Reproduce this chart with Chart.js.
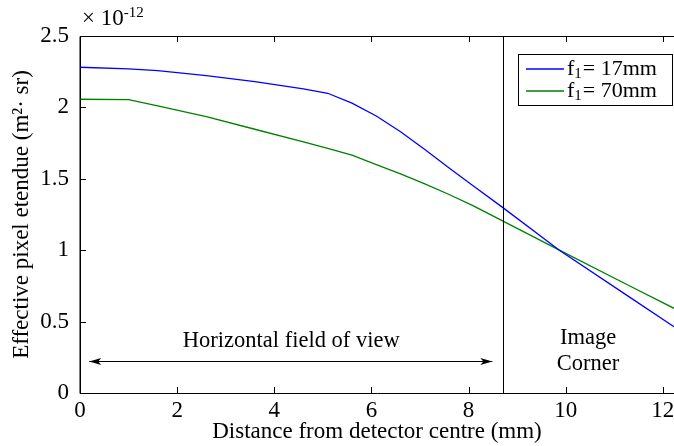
<!DOCTYPE html>
<html>
<head>
<meta charset="utf-8">
<script src="https://cdn.jsdelivr.net/npm/chart.js@4.4.1/dist/chart.umd.min.js"></script>
<style>
  html, body { margin: 0; padding: 0; background: #fff; }
  #wrap { width: 674px; height: 446px; }
</style>
</head>
<body>
<div id="wrap"><canvas id="etendue"></canvas></div>
<script>
// Distances from detector centre (mm)
const distance = [0, 1.0, 1.6, 2.6, 3.6, 4.6, 5.1, 5.6, 6.1, 6.6, 7.1, 7.6, 8.1, 8.7, 9.87, 11.3, 12.23];
// Effective pixel etendue (x 1e-12 m^2 sr)
const etendueF17 = [2.281, 2.27, 2.257, 2.222, 2.18, 2.13, 2.099, 2.03, 1.94, 1.83, 1.705, 1.575, 1.45, 1.30, 1.00, 0.675, 0.464];
const etendueF70 = [2.057, 2.054, 2.01, 1.935, 1.847, 1.758, 1.713, 1.665, 1.60, 1.535, 1.465, 1.39, 1.31, 1.205, 1.00, 0.753, 0.593];
const seriesLabels = ["17mm", "70mm"];
const xTicks = [0, 2, 4, 6, 8, 10, 12];
const yTicks = [0, 0.5, 1, 1.5, 2, 2.5];
const fovEdge = 8.7;     // edge of horizontal field of view
const arrowSpan = [0.19, 8.49];
const arrowLevel = 0.224;

const FONT = "'Liberation Serif', 'DejaVu Serif', serif";

const toPts = ys => distance.map((x, i) => ({ x, y: ys[i] }));

// axes box, inward ticks, field of view marker, annotations and legend
const decorations = {
  id: "decorations",
  afterDraw(chart) {
    const { ctx, chartArea: a, scales: { x, y } } = chart;
    ctx.save();
    ctx.strokeStyle = "#000";
    ctx.lineWidth = 1;

    // box
    ctx.beginPath();
    ctx.moveTo(a.left, a.bottom + 0.5);
    ctx.lineTo(a.left, a.top + 0.5);
    ctx.lineTo(a.right, a.top + 0.5);
    ctx.stroke();

    // ticks pointing in
    ctx.beginPath();
    xTicks.forEach(v => {
      const px = Math.round(x.getPixelForValue(v)) + 0.5;
      ctx.moveTo(px, a.bottom); ctx.lineTo(px, a.bottom - 6);
      ctx.moveTo(px, a.top); ctx.lineTo(px, a.top + 6);
    });
    yTicks.forEach(v => {
      const py = Math.round(y.getPixelForValue(v)) + 0.5;
      ctx.moveTo(a.left, py); ctx.lineTo(a.left + 6, py);
    });
    ctx.stroke();

    // vertical marker
    const vx = Math.round(x.getPixelForValue(fovEdge)) + 0.5;
    ctx.beginPath();
    ctx.moveTo(vx, a.bottom); ctx.lineTo(vx, a.top);
    ctx.stroke();

    // double arrow
    const ax0 = x.getPixelForValue(arrowSpan[0]);
    const ax1 = x.getPixelForValue(arrowSpan[1]);
    const ay = Math.round(y.getPixelForValue(arrowLevel)) + 0.5;
    ctx.beginPath();
    ctx.moveTo(ax0, ay); ctx.lineTo(ax1, ay);
    ctx.stroke();
    ctx.fillStyle = "#000";
    [[ax0, 1], [ax1, -1]].forEach(([px, d]) => {
      ctx.beginPath();
      ctx.moveTo(px, ay);
      ctx.lineTo(px + d * 12, ay - 3.5);
      ctx.lineTo(px + d * 9, ay);
      ctx.lineTo(px + d * 12, ay + 3.5);
      ctx.closePath();
      ctx.fill();
    });

    // annotations
    ctx.font = "22.5px " + FONT;
    ctx.textAlign = "center";
    ctx.textBaseline = "middle";
    ctx.fillText("Horizontal field of view", x.getPixelForValue(4.35), y.getPixelForValue(0.364));
    ctx.fillText("Image", x.getPixelForValue(10.46), y.getPixelForValue(0.385));
    ctx.fillText("Corner", x.getPixelForValue(10.46), y.getPixelForValue(0.20));

    // exponent label
    ctx.textAlign = "left";
    ctx.font = "23px " + FONT;
    ctx.fillText("\u00d7 10", a.left + 2, 19);
    const w = ctx.measureText("\u00d7 10").width;
    ctx.font = "15px " + FONT;
    ctx.fillText("-12", a.left + 2 + w, 13);

    // legend
    const lx = 518, ly = 54, lw = 155, lh = 52;
    ctx.fillStyle = "#fff";
    ctx.fillRect(lx, ly, lw, lh);
    ctx.strokeRect(lx + 0.5, ly + 0.5, lw - 1, lh - 1);
    chart.data.datasets.forEach((ds, i) => {
      const ry = ly + 15 + i * 22;
      ctx.strokeStyle = ds.borderColor;
      ctx.lineWidth = 1.3;
      ctx.beginPath();
      ctx.moveTo(lx + 8, ry); ctx.lineTo(lx + 46, ry);
      ctx.stroke();
      ctx.fillStyle = "#000";
      ctx.font = "22px " + FONT;
      ctx.textBaseline = "middle";
      let tx = lx + 49;
      ctx.fillText("f", tx, ry);
      tx += ctx.measureText("f").width;
      ctx.font = "15px " + FONT;
      ctx.fillText("1", tx, ry + 5);
      tx += ctx.measureText("1").width;
      ctx.font = "22px " + FONT;
      ctx.fillText("= " + seriesLabels[i], tx + 1, ry);
    });
    ctx.restore();
  }
};

new Chart(document.getElementById("etendue"), {
  type: "line",
  data: {
    datasets: [
      { label: "f1= " + seriesLabels[0], data: toPts(etendueF17), borderColor: "#0000ff", borderWidth: 1.3, pointRadius: 0, pointHoverRadius: 0, tension: 0, fill: false },
      { label: "f1= " + seriesLabels[1], data: toPts(etendueF70), borderColor: "#008000", borderWidth: 1.3, pointRadius: 0, pointHoverRadius: 0, tension: 0, fill: false }
    ]
  },
  options: {
    responsive: true,
    maintainAspectRatio: false,
    animation: false,
    layout: { autoPadding: false, padding: { top: 36, right: 0, left: 0, bottom: 0 } },
    plugins: { legend: { display: false }, tooltip: { enabled: false } },
    scales: {
      x: {
        type: "linear",
        min: 0,
        max: 12.23,
        afterBuildTicks: s => { s.ticks = xTicks.map(v => ({ value: v })); },
        afterFit: s => { s.height = 53; s.paddingLeft = 0; s.paddingRight = 0; },
        grid: { display: false, drawTicks: false },
        border: { display: true, color: "#000", width: 1 },
        ticks: { color: "#000", padding: 4, maxRotation: 0, font: { family: FONT, size: 23 } },
        title: { display: true, text: "Distance from detector centre (mm)", color: "#000", padding: { top: 0, bottom: 0 }, font: { family: FONT, size: 23 } }
      },
      y: {
        type: "linear",
        min: 0,
        max: 2.5,
        afterBuildTicks: s => { s.ticks = yTicks.map(v => ({ value: v })); },
        afterFit: s => { s.width = 80; },
        grid: { display: false, drawTicks: false },
        border: { display: true, color: "#000", width: 1 },
        ticks: { color: "#000", padding: 11, font: { family: FONT, size: 23 }, callback: v => String(v) },
        title: { display: true, text: "Effective pixel etendue (m\u00b2\u00b7 sr)", color: "#000", padding: { top: 8, bottom: 0 }, font: { family: FONT, size: 23 } }
      }
    }
  },
  plugins: [decorations]
});
</script>
</body>
</html>
